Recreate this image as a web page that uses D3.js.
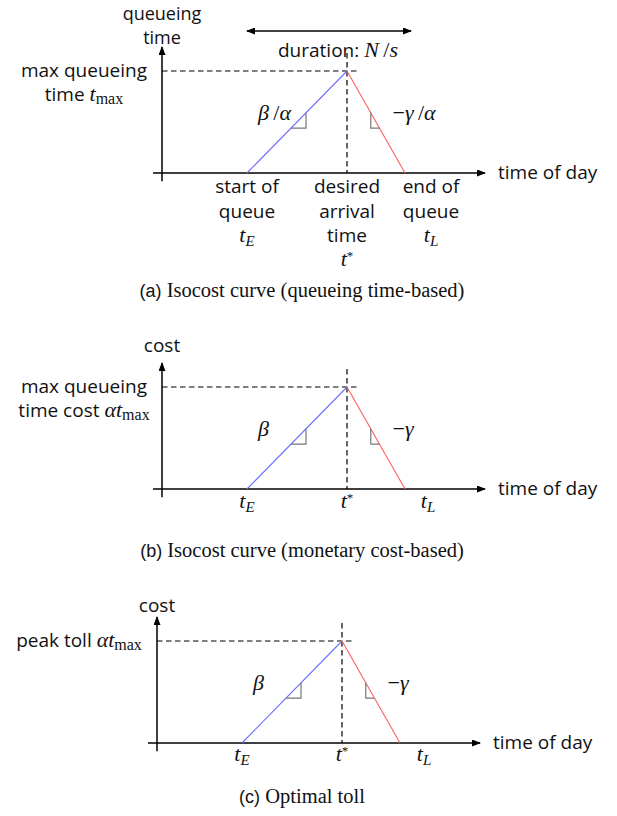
<!DOCTYPE html>
<html><head><meta charset="utf-8">
<script src="https://cdn.jsdelivr.net/npm/d3@7"></script>
<style>body{margin:0;background:#fff}svg{display:block}</style>
</head><body>
<svg id="fig" width="617" height="816"></svg>
<script>
// ---- values ----
const keyTimes = [0.85, 1.85, 2.43];          // t_E, t*, t_L on the time-of-day axis
const axisTimeRange = [-0.09, 3.23];          // drawn extent of the horizontal axis
const peakLevel = 1;                          // t_max (a) and alpha*t_max (b, c)
const axisLevelTop = 1.235;                   // tip of the vertical axis
const slopeMarkLevels = [0.44, 0.59];         // levels bounding the right-angle slope marks
const isocostLevels = [0, peakLevel, 0];      // value of the isocost curve at t_E, t*, t_L

// ---- texts ----
const yTitles = [["queueing", "time"], ["cost"], ["cost"]];
const peakLabels = [
  [[["max queueing", "s"]], [["time ", "s"], ["t", "m"], ["max", "subr"]]],
  [[["max queueing", "s"]], [["time cost ", "s"], ["αt", "m"], ["max", "subr"]]],
  [[["peak toll ", "s"], ["αt", "m"], ["max", "subr"]]]
];
const risingLabels = [
  [["β", "m"], ["\u2009/", "r"], ["α", "m"]],
  [["β", "m"]],
  [["β", "m"]]
];
const fallingLabels = [
  [["−", "r"], ["γ", "m"], ["\u2009/", "r"], ["α", "m"]],
  [["−", "r"], ["γ", "m"]],
  [["−", "r"], ["γ", "m"]]
];
const tE = [["t", "m"], ["E", "sub"]];
const tS = [["t", "m"], ["*", "sup"]];
const tL = [["t", "m"], ["L", "sub"]];
const tickLabelsA = [
  [[["start of", "s"]], [["queue", "s"]], tE],
  [[["desired", "s"]], [["arrival", "s"]], [["time", "s"]], tS],
  [[["end of", "s"]], [["queue", "s"]], tL]
];
const tickLabelsBC = [[tE], [tS], [tL]];
const durationText = [["duration: ", "s"], ["N", "m"], ["\u2009/", "r"], ["s", "m"]];
const xTitle = "time of day";
const captionTags = ["(a)", "(b)", "(c)"];
const captionTexts = [" Isocost curve (queueing time-based)", " Isocost curve (monetary cost-based)", " Optimal toll"];

// ---- layout ----
const origins = [[162, 173], [162, 489], [157, 743]];
const titleOffsets = [[-27.5, -3], [-11], [-5]];
const tLShift = [26, 23, 24];
const tickBaselines = [[20, 44.5, 68.5, 93], [19], [18]];
const captionY = [297, 557, 803];

const styles = {
  s:    { family: "'Open Sans', 'Noto Sans', sans-serif", size: 19, italic: false, dy: 0 },
  m:    { family: "'Liberation Serif', serif", size: 22, italic: true, dy: 0 },
  r:    { family: "'Liberation Serif', serif", size: 22, italic: false, dy: 0 },
  sub:  { family: "'Liberation Serif', serif", size: 15, italic: true, dy: 4 },
  subr: { family: "'Liberation Serif', serif", size: 16, italic: false, dy: 3 },
  sup:  { family: "'Liberation Serif', serif", size: 13, italic: false, dy: -6 }
};

const svg = d3.select("#fig");
const defs = svg.append("defs");
defs.append("marker").attr("id", "arrow")
  .attr("viewBox", "0 0 9 7").attr("refX", 8).attr("refY", 3.5)
  .attr("markerWidth", 9).attr("markerHeight", 7)
  .attr("markerUnits", "userSpaceOnUse").attr("orient", "auto-start-reverse")
  .append("path").attr("d", "M0,0L9,3.5L0,7Z").attr("fill", "#000");

function richText(g, x, y, segs, anchor) {
  const t = g.append("text").attr("x", x).attr("y", y)
    .attr("text-anchor", anchor || "start").attr("fill", "#111");
  let shift = 0;
  segs.forEach(([str, key]) => {
    const st = styles[key];
    t.append("tspan").text(str)
      .attr("dy", st.dy - shift)
      .attr("font-family", st.family)
      .attr("font-size", st.size)
      .attr("font-style", st.italic ? "italic" : "normal");
    shift = st.dy;
  });
  return t;
}

// stacked plain lines inside a single text element
function stackedText(g, x, ys, lines) {
  const t = g.append("text").attr("text-anchor", "middle").attr("fill", "#111")
    .attr("font-family", styles.s.family).attr("font-size", lines.length > 1 ? 18 : styles.s.size);
  lines.forEach((s, i) => t.append("tspan").attr("x", x).attr("y", ys[i]).text(s));
  return t;
}

origins.forEach(([ox, oy], p) => {
  const g = svg.append("g");
  const x = d3.scaleLinear().domain([0, 1]).range([ox, ox + 100]);
  const y = d3.scaleLinear().domain([0, 1]).range([oy, oy - 102]);

  // axes
  g.append("line").attr("x1", x(axisTimeRange[0])).attr("x2", x(axisTimeRange[1]))
    .attr("y1", y(0)).attr("y2", y(0))
    .attr("stroke", "#000").attr("stroke-width", 1.5).attr("marker-end", "url(#arrow)");
  g.append("line").attr("x1", x(0)).attr("x2", x(0))
    .attr("y1", y(-0.08)).attr("y2", y(axisLevelTop))
    .attr("stroke", "#000").attr("stroke-width", 1.5).attr("marker-end", "url(#arrow)");

  // dashed guides to the peak
  const peakX = x(keyTimes[1]), peakY = y(peakLevel);
  g.append("line").attr("x1", x(0)).attr("x2", peakX + 13)
    .attr("y1", peakY).attr("y2", peakY)
    .attr("stroke", "#000").attr("stroke-width", 1.2).attr("stroke-dasharray", "5.5,3.5");
  g.append("line").attr("x1", peakX).attr("x2", peakX)
    .attr("y1", peakY - 18).attr("y2", y(0))
    .attr("stroke", "#000").attr("stroke-width", 1.2).attr("stroke-dasharray", "5.5,3.5");

  // isocost curve: rising (blue) and falling (red) parts
  const pts = keyTimes.map((t, i) => [t, isocostLevels[i]]);
  const line = d3.line().x(d => x(d[0])).y(d => y(d[1]));
  g.append("path").attr("d", line(pts.slice(0, 2))).attr("fill", "none")
    .attr("stroke", "#6e6eff").attr("stroke-width", 1.1);
  g.append("path").attr("d", line(pts.slice(1, 3))).attr("fill", "none")
    .attr("stroke", "#ff5e5e").attr("stroke-width", 1.1);

  // right-angle slope marks
  const riseAt = v => keyTimes[0] + (keyTimes[1] - keyTimes[0]) * v / peakLevel;
  const fallAt = v => keyTimes[2] - (keyTimes[2] - keyTimes[1]) * v / peakLevel;
  const [lo, hi] = slopeMarkLevels;
  g.append("path").attr("fill", "none").attr("stroke", "#777").attr("stroke-width", 1.2)
    .attr("d", `M${x(riseAt(lo))},${y(lo)}H${x(riseAt(hi))}V${y(hi)}`);
  g.append("path").attr("fill", "none").attr("stroke", "#777").attr("stroke-width", 1.2)
    .attr("d", `M${x(fallAt(hi))},${y(hi)}V${y(lo)}H${x(fallAt(lo))}`);
  richText(g, x(riseAt(lo)) - 33, y(lo) - 8, risingLabels[p], "start");
  richText(g, x(fallAt(lo)) + 13, y(lo) - 8, fallingLabels[p], "start");

  // axis titles
  stackedText(g, x(0), titleOffsets[p].map(d => y(axisLevelTop) + d), yTitles[p]);
  richText(g, x(axisTimeRange[1]) + 13, y(0) + 6, [[xTitle, "s"]], "start");

  // peak label(s)
  peakLabels[p].forEach((segs, i) => {
    richText(g, x(0) - 78, peakY + 6 + i * 24, segs, "middle");
  });

  // tick labels under the time axis
  const cols = p === 0 ? tickLabelsA : tickLabelsBC;
  cols.forEach((lines, c) => {
    const cx = x(keyTimes[c]) + (c === 2 ? tLShift[p] : 0);
    lines.forEach((segs, i) => richText(g, cx, y(0) + tickBaselines[p][i], segs, "middle"));
  });

  // duration of the queue, drawn on the first panel only
  if (p === 0) {
    g.append("line").attr("x1", x(keyTimes[0])).attr("x2", x(keyTimes[2]) + 6)
      .attr("y1", 31).attr("y2", 31)
      .attr("stroke", "#000").attr("stroke-width", 1.3)
      .attr("marker-start", "url(#arrow)").attr("marker-end", "url(#arrow)");
    richText(g, x(keyTimes[0]) + 31, 57, durationText, "start");
  }

  // caption
  const cap = svg.append("text").attr("x", 302).attr("y", captionY[p])
    .attr("text-anchor", "middle").attr("fill", "#111");
  cap.append("tspan").text(captionTags[p])
    .attr("font-family", "'Liberation Sans', Arial, sans-serif").attr("font-size", 18);
  cap.append("tspan").text(captionTexts[p])
    .attr("font-family", "'Liberation Serif', 'Times New Roman', serif").attr("font-size", 20.5);
});
</script>
</body></html>
